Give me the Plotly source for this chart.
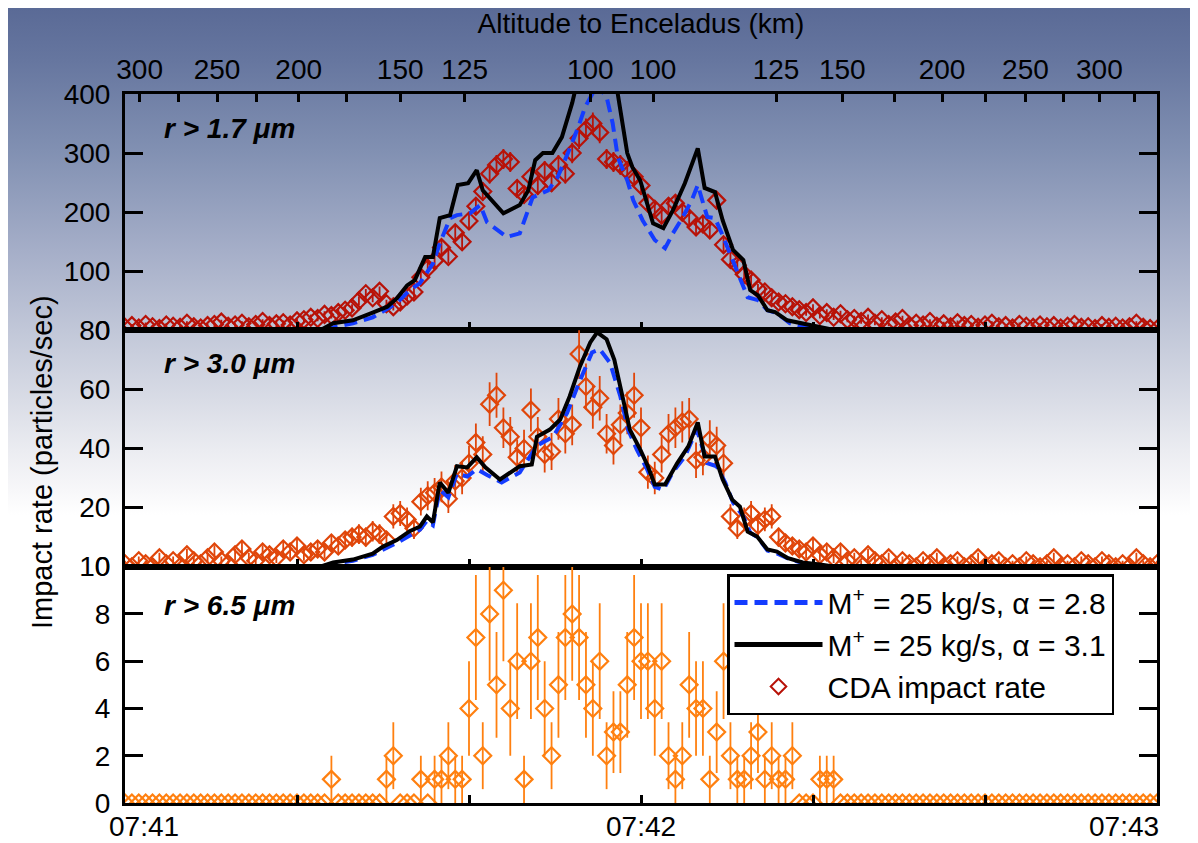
import base64
import numpy as np
import plotly.graph_objects as go

# ---------------- data (seconds after 07:41:00) ----------------
t_cda = [
    0.0, 0.8, 1.6, 2.4, 3.2, 4.0, 4.8, 5.6, 6.4, 7.2,
    8.0, 8.8, 9.6, 10.4, 11.2, 12.0, 12.8, 13.6, 14.4, 15.2,
    16.0, 16.8, 17.6, 18.4, 19.2, 20.0, 20.8, 21.6, 22.4, 23.2,
    24.0, 24.8, 25.6, 26.4, 27.2, 28.0, 28.8, 29.6, 30.4, 31.2,
    32.0, 32.8, 33.6, 34.4, 35.2, 36.0, 36.8, 37.6, 38.4, 39.2,
    40.0, 40.8, 41.6, 42.4, 43.2, 44.0, 44.8, 45.6, 46.4, 47.2,
    48.0, 48.8, 49.6, 50.4, 51.2, 52.0, 52.8, 53.6, 54.4, 55.2,
    56.0, 56.8, 57.6, 58.4, 59.2, 60.0, 60.8, 61.6, 62.4, 63.2,
    64.0, 64.8, 65.6, 66.4, 67.2, 68.0, 68.8, 69.6, 70.4, 71.2,
    72.0, 72.8, 73.6, 74.4, 75.2, 76.0, 76.8, 77.6, 78.4, 79.2,
    80.0, 80.8, 81.6, 82.4, 83.2, 84.0, 84.8, 85.6, 86.4, 87.2,
    88.0, 88.8, 89.6, 90.4, 91.2, 92.0, 92.8, 93.6, 94.4, 95.2,
    96.0, 96.8, 97.6, 98.4, 99.2, 100.0, 100.8, 101.6, 102.4, 103.2,
    104.0, 104.8, 105.6, 106.4, 107.2, 108.0, 108.8, 109.6, 110.4, 111.2,
    112.0, 112.8, 113.6, 114.4, 115.2, 116.0, 116.8, 117.6, 118.4, 119.2,
    120.0,
]

cda_r17 = [
    5, 8, 4, 10, 6, 3, 9, 7, 5, 12,
    6, 4, 8, 10, 14, 7, 9, 12, 6, 10,
    15, 8, 11, 13, 9, 16, 18, 22, 20, 27,
    25, 30, 34, 38, 50, 62, 55, 66, 45, 40,
    48, 58, 65, 90, 105, 118, 140, 125, 165, 150,
    185, 210, 235, 265, 280, 290, 285, 240, 230, 260,
    245, 270, 250, 280, 265, 300, 325, 340, 350, 335,
    290, 285, 280, 270, 260, 245, 215, 205, 195, 210,
    215, 200, 190, 175, 180, 170, 220, 145, 120, 110,
    95, 85, 70, 65, 55, 48, 45, 40, 35, 30,
    38, 25, 30, 22, 28, 18, 20, 15, 22, 12,
    18, 10, 14, 20, 8, 12, 9, 15, 7, 11,
    6, 13, 8, 10, 5, 9, 12, 6, 8, 4,
    10, 7, 5, 9, 6, 8, 4, 7, 10, 5,
    6, 3, 8, 5, 7, 4, 6, 12, 5, 3,
    2,
]

cda_r30 = [
    1, 0, 2, 1, 0, 3, 1, 2, 0, 4,
    2, 1, 3, 5, 2, 1, 4, 6, 3, 2,
    5, 4, 3, 6, 5, 7, 4, 5, 6, 5,
    8, 7, 9, 10, 11, 10, 12, 11, 9, 17,
    18, 16, 13, 22, 24, 25, 27, 23, 29, 30,
    35, 42, 38, 55, 58, 47, 44, 37, 40, 53,
    44, 38, 39, 50, 45, 48, 72, 61, 54, 57,
    45, 41, 48, 52, 58, 47, 32, 30, 38, 45,
    47, 49, 50, 36, 37, 43, 41, 35, 17, 13,
    16, 18, 14, 16, 17, 10, 8, 7, 6, 5,
    7, 4, 5, 3, 5, 2, 3, 1, 4, 2,
    1, 3, 0, 2, 1, 0, 2, 1, 3, 0,
    1, 2, 0, 1, 3, 0, 1, 2, 0, 1,
    0, 2, 1, 0, 1, 3, 0, 1, 0, 2,
    1, 0, 2, 1, 0, 1, 0, 3, 1, 0,
    1,
]

cda_r65 = [
    0, 0, 0, 0, 0, 0, 0, 0, 0, 0,
    0, 0, 0, 0, 0, 0, 0, 0, 0, 0,
    0, 0, 0, 0, 0, 0, 0, 0, 0, 0,
    1, 0, 0, 0, 0, 0, 0, 0, 1, 2,
    0, 0, 0, 1, 0, 1, 1, 2, 1, 1,
    4, 7, 2, 8, 5, 9, 4, 6, 1, 6,
    7, 4, 2, 5, 7, 8, 7, 5, 4, 6,
    2, 3, 3, 5, 7, 6, 6, 4, 6, 2,
    1, 2, 5, 4, 4, 1, 3, 6, 2, 1,
    1, 2, 3, 1, 2, 1, 1, 2, 0, 0,
    0, 1, 1, 1, 0, 0, 0, 0, 0, 0,
    0, 0, 0, 0, 0, 0, 0, 0, 0, 0,
    0, 0, 0, 0, 0, 0, 0, 0, 0, 0,
    0, 0, 0, 0, 0, 0, 0, 0, 0, 0,
    0, 0, 0, 0, 0, 0, 0, 0, 0, 0,
    0,
]

# model, alpha = 3.1 (black) and alpha = 2.8 (blue), r > 1.7 um
t_m31_r17 = [0, 22.7, 24.2, 26.5, 28.8, 30.5, 31.6, 32.8, 33.7, 34.9,
             35.8, 36.6, 37.8, 38.7, 39.9, 40.9, 41.6, 44.0, 45.9, 46.9,
             47.7, 48.6, 49.7, 50.8, 52.0, 52.9, 54.1, 54.9, 56.0, 56.9,
             57.3, 58.4, 59.0, 59.9, 61.4, 62.6, 63.7, 65.1, 66.6, 67.4,
             68.6, 69.5, 70.7, 71.9, 72.7, 73.6, 74.7, 75.6, 77.0, 78.8,
             80.8, 82.6, 120]
m31_r17 = [0, 0, 12, 17, 30, 40, 54, 76, 85, 124,
           124, 190, 195, 246, 249, 271, 237, 198, 212, 237,
           288, 300, 300, 327, 385, 440, 475, 490, 470, 430,
           400, 300, 276, 254, 181, 173, 203, 249, 308, 241,
           234, 186, 136, 119, 68, 59, 34, 31, 17, 12,
           5, 0, 0]

t_m28_r17 = [0, 22.7, 24.2, 26.5, 28.8, 31.6, 33.1, 34.3, 35.8, 36.6,
             37.8, 38.6, 40.1, 41.3, 42.1, 43.3, 44.4, 45.9, 47.4, 49.2,
             50.3, 51.5, 52.7, 53.5, 54.1, 54.9, 56.0, 56.7, 57.3, 58.4,
             59.1, 60.2, 61.6, 62.8, 63.7, 64.8, 65.9, 66.6, 67.7, 68.6,
             69.4, 70.3, 71.5, 72.4, 73.6, 74.7, 75.8, 77.3, 79.7, 82.0,
             120]
m28_r17 = [0, 0, 5, 12, 22, 46, 68, 80, 113, 147,
           190, 195, 198, 212, 183, 169, 158, 164, 225, 237,
           259, 300, 344, 378, 395, 415, 395, 351, 293, 254,
           220, 186, 153, 139, 164, 190, 220, 246, 192, 190,
           164, 131, 85, 56, 51, 34, 29, 12, 3, 0,
           0]

# r > 3.0 um
t_m31_r30 = [0, 22.7, 24.2, 26.5, 28.8, 30.0, 31.6, 33.1, 34.3, 35.1,
             35.8, 36.6, 37.6, 38.6, 39.8, 40.9, 41.9, 43.6, 45.9, 47.3,
             47.9, 49.4, 50.6, 51.7, 52.9, 54.1, 54.9, 56.0, 56.9, 57.9,
             58.7, 59.9, 60.8, 61.6, 62.8, 64.2, 65.5, 66.6, 67.4, 68.6,
             69.5, 70.6, 71.5, 72.4, 73.5, 74.7, 75.8, 77.0, 78.8, 80.8,
             82.6, 120]
m31_r30 = [0, 0, 1.4, 2.4, 4.4, 6.8, 9, 12, 13.6, 17,
           15, 28.5, 25, 34, 33.6, 37, 33.6, 29.5, 34, 34.6,
           44, 46.4, 49.8, 57.6, 67.8, 75.9, 79.3, 77, 70, 57.6,
           46.4, 39.7, 34, 27.8, 27.8, 35, 40.7, 48.8, 37.3, 37.3,
           29.5, 22.7, 20.3, 11.9, 10.2, 5.8, 5.1, 3, 1.4, 0.7,
           0, 0]

t_m28_r30 = [0, 22.7, 24.2, 26.5, 28.8, 31.6, 34.3, 35.1, 35.8, 36.6,
             37.6, 38.6, 39.8, 40.9, 42.1, 43.8, 45.9, 47.9, 49.8, 51.4,
             52.9, 54.3, 55.2, 56.4, 57.6, 58.5, 59.5, 60.7, 61.6, 62.6,
             63.7, 65.1, 66.5, 67.7, 68.8, 69.8, 70.7, 71.9, 72.7, 73.6,
             74.7, 75.8, 77.3, 79.1, 82.0, 120]
m28_r30 = [0, 0, 1, 2, 4, 8, 12.5, 15.5, 14, 26,
           23.5, 31.5, 30.5, 33, 31, 28.5, 31.9, 41, 44, 52,
           63, 72.5, 73.6, 69, 57.6, 46.4, 39.7, 33, 27, 26,
           32, 37.3, 46.4, 35, 34, 28.5, 21.7, 17, 11.5, 9.8,
           5.5, 4.5, 2.5, 1, 0, 0]

# axis labels
time_tickvals = [0, 20, 40, 60, 80, 100, 120]
time_labels = ["07:41", "07:42", "07:43"]
time_label_vals = [0, 60, 120]
alt_tickvals = [1.7, 10.7, 20.2, 32.0, 39.5, 54.1, 61.4, 75.7, 83.4, 95.0, 104.7, 113.3]
alt_ticktext = ["300", "250", "200", "150", "125", "100", "100", "125", "150", "200", "250", "300"]
alt_minor_vals = [6.2, 15.3, 25.8, 89.5, 100.0, 109.1, 117.4]
panel_labels = ["r > 1.7 μm", "r > 3.0 μm", "r > 6.5 μm"]
legend_names = ["M<sup>+</sup> = 25 kg/s, α = 2.8",
                "M<sup>+</sup> = 25 kg/s, α = 3.1",
                "CDA impact rate"]

# ---------------- styling ----------------
FONT = "Liberation Sans, Arial, Helvetica, sans-serif"
C_TOP, C_MID, C_BOT = "#b81208", "#e0460a", "#ff8010"
C_BLUE, C_BLACK = "#143cff", "#000000"
W, H = 1198, 843
OFF = 8                      # page body margin offset
PL, PR, PT, PB = 125, 1157, 94, 803   # plot frame in screen pixels
ML, MT = PL - OFF, PT - OFF
MR, MB = W - (PR - OFF), H - (PB - OFF)
PW, PH = PR - PL, PB - PT


def py(y_screen):
    return (PB - y_screen) / PH


def px(x_screen):
    return (x_screen - PL) / PW


fig = go.Figure()


def cda_trace(y, color, xa, ya, show):
    y = np.asarray(y, dtype=float)
    return go.Scatter(
        x=t_cda, y=y, xaxis=xa, yaxis=ya, mode="markers",
        name=legend_names[2], showlegend=show, legendrank=3,
        marker=dict(symbol="diamond-open", size=13, color=color,
                    line=dict(width=2.2, color=color)),
        error_y=dict(type="data", array=np.sqrt(y), visible=True,
                     color=color, thickness=1.8, width=0),
        hoverinfo="skip")


def model_trace(t, y, xa, ya, blue, show):
    return go.Scatter(
        x=t, y=y, xaxis=xa, yaxis=ya, mode="lines",
        name=legend_names[0] if blue else legend_names[1],
        showlegend=show, legendrank=1 if blue else 2,
        line=dict(color=C_BLUE if blue else C_BLACK, width=4,
                  dash="13px,7px" if blue else "solid"),
        hoverinfo="skip")


fig.add_trace(cda_trace(cda_r17, C_TOP, "x", "y", True))
fig.add_trace(model_trace(t_m28_r17, m28_r17, "x", "y", True, True))
fig.add_trace(model_trace(t_m31_r17, m31_r17, "x", "y", False, True))

fig.add_trace(cda_trace(cda_r30, C_MID, "x2", "y2", False))
fig.add_trace(model_trace(t_m28_r30, m28_r30, "x2", "y2", True, False))
fig.add_trace(model_trace(t_m31_r30, m31_r30, "x2", "y2", False, False))

fig.add_trace(cda_trace(cda_r65, C_BOT, "x3", "y3", False))

# carrier so the top altitude axis gets drawn (nothing visible)
fig.add_trace(go.Scatter(x=[0, 120], y=[0, 0], xaxis="x4", yaxis="y", mode="markers",
                         marker=dict(opacity=0, size=1), showlegend=False,
                         hoverinfo="skip"))

xcommon = dict(range=[0, 120], tickvals=time_tickvals, showticklabels=False,
               ticks="inside", ticklen=8, tickwidth=2.5, tickcolor="black",
               showline=True, linewidth=3, linecolor="black", mirror=True,
               showgrid=False, zeroline=False, domain=[0, 1])
ycommon = dict(ticks="inside", ticklen=18, tickwidth=2.5, tickcolor="black",
               showline=True, linewidth=3, linecolor="black", mirror="ticks",
               showgrid=False, zeroline=False,
               tickfont=dict(size=28, color="black", family=FONT),
               ticklabelstandoff=6)

# background gradient (decoration), stops in screen pixels
grad_stops = [(0, "#5a6a96"), (60, "#66769f"), (150, "#8190b2"), (250, "#a5aec8"),
              (330, "#c1c7d8"), (400, "#d9dce6"), (450, "#ebecf1"), (490, "#f7f7f9"),
              (515, "#ffffff"), (H + OFF, "#ffffff")]
stops_svg = "".join(
    f'<stop offset="{max(0.0, (ys - OFF) / H):.4f}" stop-color="{c}"/>' for ys, c in grad_stops)
svg = (
    f'<svg xmlns="http://www.w3.org/2000/svg" width="{W}" height="{H}" '
    f'viewBox="0 0 {W} {H}" preserveAspectRatio="none">'
    f'<defs><linearGradient id="g" x1="0" y1="0" x2="0" y2="1">{stops_svg}'
    '</linearGradient></defs>'
    f'<rect x="0" y="0" width="{W}" height="{H}" fill="url(#g)"/></svg>'
)
svg_uri = "data:image/svg+xml;base64," + base64.b64encode(svg.encode()).decode()

annotations = []
for lbl, ys in zip(panel_labels, [128, 363, 605]):
    annotations.append(dict(text=f"<b><i>{lbl}</i></b>", xref="paper", yref="paper",
                            x=px(162), y=py(ys), xanchor="left", yanchor="middle",
                            showarrow=False, font=dict(size=28, color="black", family=FONT)))
for lbl, tv, sh in zip(time_labels, time_label_vals, [19, 0, -33]):
    annotations.append(dict(text=lbl, xref="x3", yref="paper", x=tv, y=0,
                            xanchor="center", yanchor="top", yshift=-6, xshift=sh,
                            showarrow=False, font=dict(size=28, color="black", family=FONT)))
annotations.append(dict(text="Impact rate (particles/sec)", xref="paper", yref="paper",
                        x=px(42), y=py(462), textangle=-90,
                        xanchor="center", yanchor="middle", showarrow=False,
                        font=dict(size=29, color="black", family=FONT)))

fig.update_layout(
    width=W, height=H,
    margin=dict(l=ML, r=MR, t=MT, b=MB, pad=0),
    paper_bgcolor="white", plot_bgcolor="rgba(0,0,0,0)",
    font=dict(family=FONT, color="black"),
    images=[dict(source=svg_uri, xref="paper", yref="paper",
                 x=-ML / PW, y=1 + MT / PH, sizex=W / PW, sizey=H / PH,
                 xanchor="left", yanchor="top", sizing="stretch", layer="below")],
    xaxis=dict(anchor="y", **xcommon),
    xaxis2=dict(anchor="y2", **xcommon),
    xaxis3=dict(anchor="y3", **xcommon),
    xaxis4=dict(overlaying="x", anchor="y", side="top", range=[0, 120],
                tickvals=alt_tickvals, ticktext=alt_ticktext,
                ticks="inside", ticklen=8, tickwidth=2.5, tickcolor="black",
                minor=dict(tickvals=alt_minor_vals, ticks="inside", ticklen=8,
                           tickwidth=2.5, tickcolor="black", showgrid=False),
                showline=False, showgrid=False, zeroline=False,
                tickfont=dict(size=28, color="black", family=FONT),
                ticklabelstandoff=8,
                title=dict(text="Altitude to Enceladus (km)", standoff=14,
                           font=dict(size=28, color="black", family=FONT))),
    yaxis=dict(domain=[2 / 3, 1], range=[0, 400], tickvals=[0, 100, 200, 300, 400], anchor="x", **ycommon),
    yaxis2=dict(domain=[1 / 3, 2 / 3], range=[0, 80], tickvals=[0, 20, 40, 60, 80], anchor="x2", **ycommon),
    yaxis3=dict(domain=[0, 1 / 3], range=[0, 10], tickvals=[0, 2, 4, 6, 8, 10], anchor="x3", **ycommon),
    legend=dict(x=px(727), y=py(574), xanchor="left", yanchor="top",
                bgcolor="white", bordercolor="black", borderwidth=2.5,
                font=dict(size=30, color="black", family=FONT),
                itemwidth=88,
                traceorder="normal", tracegroupgap=0, itemsizing="constant"),
    annotations=annotations,
    showlegend=True,
)

fig.write_html("out.html")
